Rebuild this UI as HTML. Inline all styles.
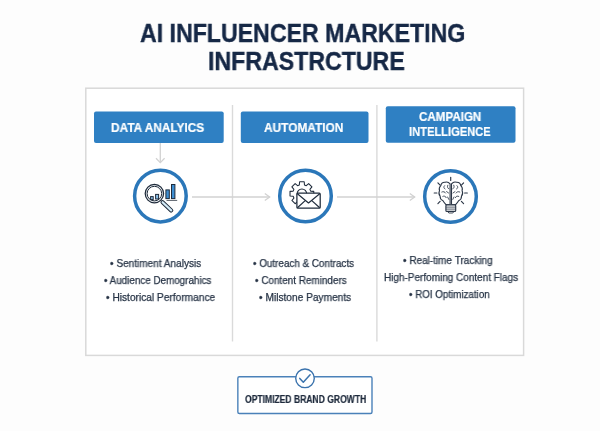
<!DOCTYPE html>
<html><head><meta charset="utf-8">
<style>
html,body{margin:0;padding:0;}
body{width:600px;height:431px;position:relative;overflow:hidden;background:#fdfdfd;font-family:"Liberation Sans",sans-serif;}
.a{position:absolute;}
.t{position:absolute;white-space:nowrap;line-height:0;transform-origin:0 0;will-change:transform;}
.title{font-weight:bold;font-size:26px;color:#162846;-webkit-text-stroke:0.4px #162846;}
.hdr{background:#2f80c3;border-radius:2px;}
.ht{font-weight:bold;font-size:12.5px;color:#fff;-webkit-text-stroke:0.2px #fff;}
.bl{font-size:10.2px;color:#263345;-webkit-text-stroke:0.25px #263345;}
.line{background:#dcdcdc;}
</style></head><body>
<!-- title -->
<div class="t title" id="t1" style="left:140px;top:calc(41.8px - 0.3467em);transform:scaleX(0.89)">AI INFLUENCER MARKETING</div>
<div class="t title" id="t2" style="left:207.5px;top:calc(70.3px - 0.3467em);transform:scaleX(0.89)">INFRASTRCTURE</div>

<!-- outer box, dividers, headers -->
<svg class="a" style="left:0;top:0" width="600" height="431">
  <rect x="85.8" y="88.2" width="437.8" height="267.2" fill="#fff" stroke="#d9d9d9" stroke-width="1.5"/>
  <line x1="232.5" y1="105" x2="232.5" y2="341.5" stroke="#dadada" stroke-width="1.4"/>
  <line x1="376.9" y1="105" x2="376.9" y2="341.5" stroke="#dadada" stroke-width="1.4"/>
  <g fill="#2f80c3">
    <rect x="94" y="111.6" width="129.7" height="31.4" rx="2"/>
    <rect x="240.8" y="111.4" width="127.7" height="31.6" rx="2"/>
    <rect x="385.8" y="106.2" width="129.7" height="36.5" rx="2"/>
  </g>
</svg>
<div class="t ht" style="left:111px;top:calc(132.4px - 0.3467em);transform:scaleX(0.95)">DATA ANALYICS</div>
<div class="t ht" style="left:263.8px;top:calc(132.4px - 0.3467em);transform:scaleX(0.95)">AUTOMATION</div>
<div class="t ht" style="left:418.6px;top:calc(121.4px - 0.3467em);transform:scaleX(0.927)">CAMPAIGN</div>
<div class="t ht" style="left:409.2px;top:calc(135.9px - 0.3467em);transform:scaleX(0.891)">INTELLIGENCE</div>

<!-- arrows -->
<svg class="a" style="left:0;top:0" width="600" height="431">
  <g stroke="#d2d2d2" stroke-width="1.3" fill="none">
    <line x1="160.3" y1="143" x2="160.3" y2="162.5"/>
    <polyline points="156,158.3 160.3,162.6 164.6,158.3"/>
    <line x1="192" y1="197" x2="269.7" y2="197"/>
    <polyline points="264.8,193.5 269.7,197 264.8,200.5"/>
    <line x1="337" y1="197" x2="414.7" y2="197"/>
    <polyline points="409.8,193.5 414.7,197 409.8,200.5"/>
  </g>
  <g stroke="#2b77b9" stroke-width="3.5" fill="#fff">
    <circle cx="160.4" cy="196.1" r="25.8"/>
    <circle cx="305.5" cy="196" r="25.8"/>
    <circle cx="450.5" cy="196.5" r="25.8"/>
  </g>
</svg>

<!-- icons -->
<svg class="a" style="left:0;top:0" width="600" height="431">
 <g fill="none" stroke="#1f2b3b" stroke-width="1">
  <!-- icon1 magnifier -->
  <line x1="162.6" y1="202.2" x2="171.2" y2="210.4" stroke-width="4.2" stroke-linecap="round"/>
  <line x1="162.6" y1="202.2" x2="171.2" y2="210.4" stroke="#d3eaf7" stroke-width="2.2" stroke-linecap="round"/>
  <circle cx="154.4" cy="193.6" r="9.2" fill="#eef1f4" stroke-width="1.25"/>
  <circle cx="154.4" cy="193.6" r="7.3" fill="#fff"/>
  <rect x="150.6" y="196.6" width="2.6" height="3" fill="#8ec3ea"/>
  <rect x="155.6" y="194.4" width="3" height="4.6" fill="#8ec3ea"/>
  <rect x="165.9" y="189.9" width="3.4" height="8.7" fill="#3f8fd2" stroke-width="1"/>
  <rect x="171.5" y="184.5" width="3.4" height="14.1" fill="#3f8fd2" stroke-width="1"/>
  <line x1="166.5" y1="200.4" x2="177.2" y2="200.4" stroke="#59606a" stroke-width="1"/>
  <!-- icon2 gear + envelope -->
  <path d="M299.32,184.97 L299.59,181.82 L304.21,181.82 L304.48,184.97 L306.24,185.70 L308.67,183.67 L311.93,186.93 L309.90,189.36 L310.63,191.12 L313.78,191.39 L313.78,196.01 L310.63,196.28 L309.90,198.04 L311.93,200.47 L308.67,203.73 L306.24,201.70 L304.48,202.43 L304.21,205.58 L299.59,205.58 L299.32,202.43 L297.56,201.70 L295.13,203.73 L291.87,200.47 L293.90,198.04 L293.17,196.28 L290.02,196.01 L290.02,191.39 L293.17,191.12 L293.90,189.36 L291.87,186.93 L295.13,183.67 L297.56,185.70 Z" fill="#fff" stroke-width="1.05" stroke-linejoin="round"/>
  <circle cx="301.9" cy="193.7" r="4.8" stroke-width="1.05"/>
  <rect x="296.9" y="193.2" width="23.3" height="15" rx="1" fill="#fff" stroke-width="1.25"/>
  <polyline points="297.4,193.8 308.5,203 319.7,193.8" stroke-width="1.15" stroke-linejoin="round"/>
  <line x1="297.4" y1="207.8" x2="305.2" y2="200.6" stroke-width="1.2"/>
  <line x1="319.7" y1="207.8" x2="311.8" y2="200.6" stroke-width="1.2"/>
  <!-- icon3 brain bulb -->
  <g stroke="#2b3646" stroke-width="1.15" stroke-linecap="round">
   <line x1="450.7" y1="177.4" x2="450.7" y2="180.4"/>
   <line x1="434.2" y1="193" x2="436.9" y2="193"/>
   <line x1="464.6" y1="193" x2="467.3" y2="193"/>
   <line x1="437.9" y1="182.9" x2="440.1" y2="185.1"/>
   <line x1="463.6" y1="182.9" x2="461.4" y2="185.1"/>
   <line x1="437.9" y1="203.6" x2="440.1" y2="201.4"/>
   <line x1="463.6" y1="203.6" x2="461.4" y2="201.4"/>
   <!-- brain outline -->
   <path d="M450.1,183.9 C448.6,182.1 446.6,181.6 445,182.3 C442.9,182.2 441.1,183.7 440.8,185.7 C439.4,186.9 439,189 439.5,190.6 C438.7,192.4 438.9,194.7 440.1,196.1 C440,198.2 441.2,200 443,200.8 C443.8,202.4 445,203.6 445.9,204.6 L450.1,204.6 Z" fill="#fff" stroke-width="1.1"/>
   <path d="M451.5,183.9 C453,182.1 455,181.6 456.6,182.3 C458.7,182.2 460.5,183.7 460.8,185.7 C462.2,186.9 462.6,189 462.1,190.6 C462.9,192.4 462.7,194.7 461.5,196.1 C461.6,198.2 460.4,200 458.6,200.8 C457.8,202.4 456.6,203.6 455.7,204.6 L451.5,204.6 Z" fill="#fff" stroke-width="1.1"/>
   <path d="M444.6,185.6 C443.4,186.6 443.6,188.4 445,189 M447.8,185.2 C447,186.8 447.6,188.4 448.8,188.8 M441.8,192 C443.2,191.2 445,191.8 445.6,193 M446.6,191.6 L448.6,193 M442.8,196.4 C444,195.6 445.8,196.2 446.2,197.6 M447.6,197 L448.8,199.4" stroke-width="0.85"/>
   <path d="M457,185.6 C458.2,186.6 458,188.4 456.6,189 M453.8,185.2 C454.6,186.8 454,188.4 452.8,188.8 M459.8,192 C458.4,191.2 456.6,191.8 456,193 M455,191.6 L453,193 M458.8,196.4 C457.6,195.6 455.8,196.2 455.4,197.6 M454,197 L452.8,199.4" stroke-width="0.85"/>
   <!-- base -->
   <rect x="445.9" y="204.8" width="9.8" height="6.6" rx="1" fill="#fff"/>
   <line x1="446.3" y1="207.1" x2="455.3" y2="207.1" stroke-width="0.8"/>
   <line x1="446.3" y1="209.1" x2="455.3" y2="209.1" stroke-width="0.8"/>
   <path d="M447.8,211.6 L448.8,213 L452.8,213 L453.8,211.6" stroke-width="0.9"/>
  </g>
 </g>
</svg>
<!-- bullets -->
<div class="t bl" style="left:109.80px;top:calc(267.3px - 0.3467em);transform:scaleX(0.987)">• Sentiment Analysis</div>
<div class="t bl" style="left:103.84px;top:calc(284.2px - 0.3467em);transform:scaleX(0.966)">• Audience Demograhics</div>
<div class="t bl" style="left:105.58px;top:calc(301.4px - 0.3467em);transform:scaleX(0.997)">• Historical Performance</div>
<div class="t bl" style="left:252.64px;top:calc(267.7px - 0.3467em);transform:scaleX(0.968)">• Outreach &amp; Contracts</div>
<div class="t bl" style="left:255.33px;top:calc(284.7px - 0.3467em);transform:scaleX(0.974)">• Content Reminders</div>
<div class="t bl" style="left:258.68px;top:calc(301.3px - 0.3467em);transform:scaleX(0.997)">• Milstone Payments</div>
<div class="t bl" style="left:402.51px;top:calc(264.7px - 0.3467em);transform:scaleX(0.981)">• Real-time Tracking</div>
<div class="t bl" style="left:384.15px;top:calc(281.9px - 0.3467em);transform:scaleX(0.979)">High-Perfoming Content Flags</div>
<div class="t bl" style="left:408.75px;top:calc(298.7px - 0.3467em);transform:scaleX(0.961)">• ROI Optimization</div>

<!-- bottom box -->
<svg class="a" style="left:0;top:0" width="600" height="431">
  <rect x="237.85" y="376.7" width="134.15" height="36.8" rx="1.5" fill="#fff" stroke="#4a81b9" stroke-width="1.4"/>
  <circle cx="305" cy="378.35" r="9.3" stroke="#3b73ad" stroke-width="1.4" fill="#fff"/>
  <polyline points="299.8,378.4 303.3,382.2 310.1,374.8" stroke="#3b73ad" stroke-width="1.5" fill="none" stroke-linecap="round" stroke-linejoin="round"/>
</svg>
<div class="t" style="left:244.6px;top:calc(403.2px - 0.3467em);font-weight:bold;font-size:10.2px;color:#1e2a3c;-webkit-text-stroke:0.2px #1e2a3c;transform:scaleX(0.84)">OPTIMIZED BRAND GROWTH</div>
</body></html>
